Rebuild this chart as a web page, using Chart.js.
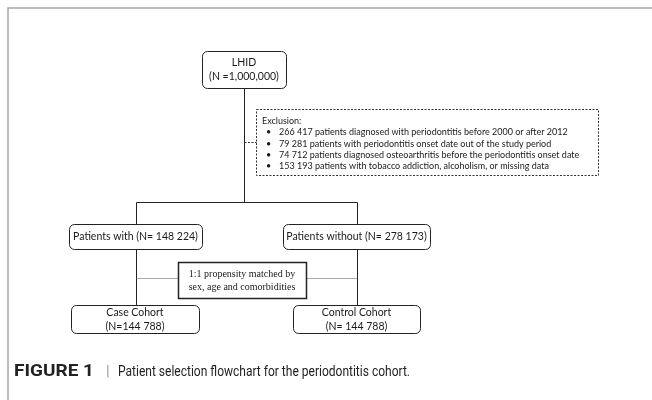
<!DOCTYPE html>
<html>
<head>
<meta charset="utf-8">
<script src="https://cdn.jsdelivr.net/npm/chart.js@4/dist/chart.umd.min.js"></script>
<style>
  html, body { margin: 0; padding: 0; background: #fff; }
  #wrap { width: 652px; height: 400px; }
</style>
</head>
<body>
<div id="wrap"><canvas id="flow"></canvas></div>
<script>
// flowchart content
const stageLines = [
    ['LHID', '(N =1,000,000)'],
    ['Patients with (N= 148 224)'],
    ['Patients without (N= 278 173)'],
    ['Case Cohort', '(N=144 788)'],
    ['Control Cohort', '(N= 144 788)']
];
const exclusionTitle = 'Exclusion:';
const exclusionItems = [
    '266 417 patients diagnosed with periodontitis before 2000 or after 2012',
    '79 281 patients with periodontitis onset date out of the study period',
    '74 712 patients diagnosed osteoarthritis before the periodontitis onset date',
    '153 193 patients with tobacco addiction, alcoholism, or missing data'
];
const matchNote = ['1:1 propensity matched by', 'sex, age and comorbidities'];
const captionLabel = 'FIGURE 1';
const captionText = 'Patient selection flowchart for the periodontitis cohort.';

// layout, in axis units (axes run 0..652 and 0..400)
const boxes = [
    { x0: 202, x1: 286, y0: 51, y1: 88 },
    { x0: 69, x1: 202, y0: 224, y1: 249 },
    { x0: 283, x1: 430, y0: 224, y1: 249 },
    { x0: 71, x1: 199, y0: 305, y1: 333 },
    { x0: 293, x1: 420, y0: 305, y1: 333 }
];
const exclBox = { x0: 256, x1: 598, y0: 109, y1: 175 };
const matchBox = { x0: 178, x1: 306, y0: 262, y1: 298 };
const solidLines = [
    [[244, 88], [244, 202]],
    [[136, 202], [357, 202]],
    [[136, 202], [136, 224]],
    [[357, 202], [357, 224]],
    [[136, 249], [136, 305]],
    [[357, 249], [357, 305]]
];
const dashedLines = [[[244, 142], [256, 142]]];
const dottedLines = [
    [[136, 278], [178, 278]],
    [[306, 278], [357, 278]]
];

const SANS = 'Lato, "Open Sans", sans-serif';

// draws text squeezed to a given width
function fitText(ctx, s, x, y, w) {
    const k = w / ctx.measureText(s).width;
    ctx.save();
    ctx.translate(x, y);
    ctx.scale(k, 1);
    ctx.fillText(s, 0, 0);
    ctx.restore();
}

const flowPlugin = {
    id: 'flow',
    afterDraw(chart) {
        const { ctx, scales: { x, y } } = chart;
        const px = v => x.getPixelForValue(v);
        const py = v => y.getPixelForValue(v);
        ctx.save();

        // figure frame
        ctx.strokeStyle = '#a6a6a6';
        ctx.lineWidth = 1.5;
        ctx.beginPath();
        ctx.moveTo(px(652), py(8));
        ctx.lineTo(px(8), py(8));
        ctx.lineTo(px(8), py(400));
        ctx.stroke();

        const seg = (lines, dash, color, w) => {
            ctx.setLineDash(dash);
            ctx.strokeStyle = color;
            ctx.lineWidth = w;
            lines.forEach(([a, b]) => {
                ctx.beginPath();
                ctx.moveTo(px(a[0]) + 0.5, py(a[1]) + 0.5);
                ctx.lineTo(px(b[0]) + 0.5, py(b[1]) + 0.5);
                ctx.stroke();
            });
            ctx.setLineDash([]);
        };
        seg(solidLines, [], '#222', 1);
        seg(dashedLines, [2, 1.5], '#333', 1);
        seg(dottedLines, [1, 1], '#555', 1);

        // rounded stage boxes
        ctx.textAlign = 'center';
        ctx.textBaseline = 'middle';
        boxes.forEach((b, i) => {
            const l = px(b.x0), r = px(b.x1), t = py(b.y0), bt = py(b.y1);
            ctx.strokeStyle = '#222';
            ctx.lineWidth = 1;
            ctx.beginPath();
            ctx.roundRect(l + 0.5, t + 0.5, r - l, bt - t, 5);
            ctx.fillStyle = '#fff';
            ctx.fill();
            ctx.stroke();
            ctx.fillStyle = '#1a1a1a';
            ctx.font = '10.5px ' + SANS;
            const lines = stageLines[i];
            const step = 14;
            const cy = (t + bt) / 2 - (lines.length - 1) * step / 2;
            lines.forEach((s, k) => ctx.fillText(s, (l + r) / 2, cy + k * step + 0.5));
        });

        // exclusion box
        ctx.strokeStyle = '#333';
        ctx.lineWidth = 1;
        ctx.setLineDash([2, 1.5]);
        ctx.strokeRect(px(exclBox.x0) + 0.5, py(exclBox.y0) + 0.5, px(exclBox.x1) - px(exclBox.x0), py(exclBox.y1) - py(exclBox.y0));
        ctx.setLineDash([]);
        ctx.textAlign = 'left';
        ctx.fillStyle = '#1a1a1a';
        ctx.font = '9px ' + SANS;
        const ex = px(exclBox.x0) + 6;
        let ey = py(exclBox.y0) + 12;
        ctx.fillText(exclusionTitle, ex, ey);
        exclusionItems.forEach(s => {
            ey += 11.3;
            ctx.fillText('\u2022', ex + 4, ey);
            ctx.fillText(s, ex + 17, ey);
        });

        // matching note
        const ml = px(matchBox.x0), mr = px(matchBox.x1), mt = py(matchBox.y0), mb = py(matchBox.y1);
        ctx.strokeStyle = '#222';
        ctx.lineWidth = 1.5;
        ctx.fillStyle = '#fff';
        ctx.fillRect(ml, mt, mr - ml, mb - mt);
        ctx.strokeRect(ml + 0.5, mt + 0.5, mr - ml, mb - mt);
        ctx.fillStyle = '#1a1a1a';
        ctx.textAlign = 'center';
        ctx.font = '10px "Liberation Serif", "DejaVu Serif", serif';
        ctx.fillText(matchNote[0], (ml + mr) / 2, mt + 12);
        ctx.fillText(matchNote[1], (ml + mr) / 2, mt + 25);

        // caption
        ctx.textAlign = 'left';
        const capY = py(372);
        ctx.fillStyle = '#222';
        ctx.font = 'bold 17px Roboto, sans-serif';
        fitText(ctx, captionLabel, px(14), capY, 80);
        ctx.fillStyle = '#999';
        ctx.font = '15px Roboto, sans-serif';
        ctx.fillText('|', px(106), capY);
        ctx.fillStyle = '#222';
        fitText(ctx, captionText, px(118), capY, 292);

        ctx.restore();
    }
};

new Chart(document.getElementById('flow'), {
    type: 'scatter',
    data: { datasets: [] },
    options: {
        responsive: true,
        maintainAspectRatio: false,
        animation: false,
        layout: { padding: 0 },
        plugins: { legend: { display: false }, tooltip: { enabled: false } },
        scales: {
            x: { type: 'linear', min: 0, max: 652, display: false },
            y: { type: 'linear', min: 0, max: 400, reverse: true, display: false }
        }
    },
    plugins: [flowPlugin]
});
</script>
</body>
</html>
